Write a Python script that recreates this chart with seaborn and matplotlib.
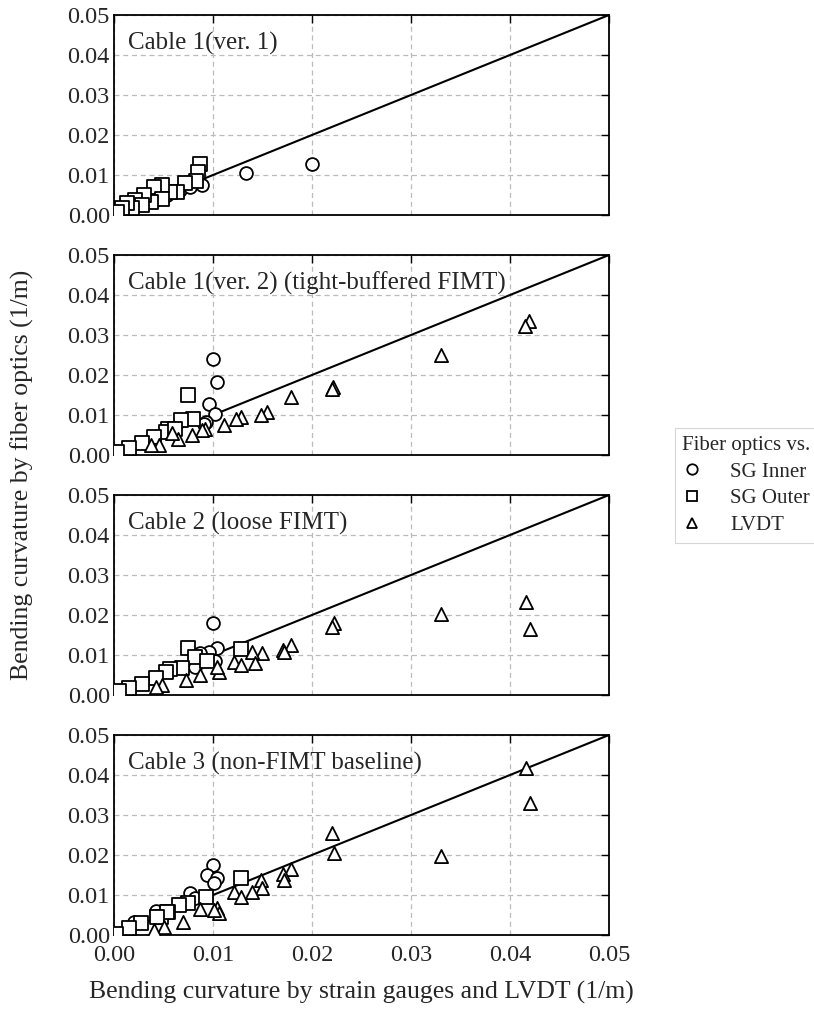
import numpy as np
import pandas as pd
import matplotlib
matplotlib.use("Agg")
import matplotlib.pyplot as plt
from matplotlib.lines import Line2D
import seaborn as sns

sns.set_style("white")
plt.rcParams["font.family"] = ["Liberation Serif", "DejaVu Serif"]
plt.rcParams["xtick.direction"] = "in"
plt.rcParams["ytick.direction"] = "in"

panel_titles = ["Cable 1(ver. 1)",
                "Cable 1(ver. 2) (tight-buffered FIMT)",
                "Cable 2 (loose FIMT)",
                "Cable 3 (non-FIMT baseline)"]
series_names = ["SG Inner", "SG Outer", "LVDT"]
legend_title = "Fiber optics vs."
xlabel = "Bending curvature by strain gauges and LVDT (1/m)"
ylabel = "Bending curvature by fiber optics (1/m)"
tick_values = [0.00, 0.01, 0.02, 0.03, 0.04, 0.05]

# ---- Panel 1: Cable 1 (ver. 1)
p1_inner_x = [0.0133, 0.0200, 0.0089, 0.0054, 0.0067, 0.0077, 0.0040, 0.0020]
p1_inner_y = [0.0105, 0.0128, 0.0074, 0.0050, 0.0062, 0.0070, 0.0036, 0.0020]
p1_outer_x = [0.0087, 0.0085, 0.0083, 0.0072, 0.0064, 0.0057, 0.0048, 0.0040, 0.0048,
              0.0037, 0.0030, 0.0021, 0.0028, 0.0018, 0.0013, 0.0008, 0.0003]
p1_outer_y = [0.0128, 0.0108, 0.0084, 0.0079, 0.0058, 0.0058, 0.0074, 0.0070, 0.0041,
              0.0033, 0.0050, 0.0037, 0.0025, 0.0017, 0.0029, 0.0017, 0.0008]
p1_lvdt_x = []
p1_lvdt_y = []

# ---- Panel 2: Cable 1 (ver. 2)
p2_inner_x = [0.0100, 0.0104, 0.0096, 0.0102, 0.0093, 0.0091]
p2_inner_y = [0.0241, 0.0182, 0.0128, 0.0103, 0.0083, 0.0078]
p2_outer_x = [0.0075, 0.0080, 0.0068, 0.0055, 0.0053, 0.0062, 0.0040, 0.0028, 0.0015, 0.0003]
p2_outer_y = [0.0151, 0.0089, 0.0087, 0.0066, 0.0058, 0.0066, 0.0046, 0.0029, 0.0017, 0.0008]
p2_lvdt_x = [0.0419, 0.0415, 0.0330, 0.0221, 0.0220, 0.0179, 0.0155, 0.0148, 0.0128,
             0.0123, 0.0111, 0.0092, 0.0089, 0.0079, 0.0065, 0.0059, 0.0045, 0.0037]
p2_lvdt_y = [0.0335, 0.0322, 0.0250, 0.0170, 0.0165, 0.0145, 0.0108, 0.0101, 0.0095,
             0.0089, 0.0076, 0.0066, 0.0062, 0.0050, 0.0041, 0.0054, 0.0025, 0.0025]

# ---- Panel 3: Cable 2 (loose FIMT)
p3_inner_x = [0.0100, 0.0104, 0.0096, 0.0087, 0.0082, 0.0102]
p3_inner_y = [0.0179, 0.0117, 0.0108, 0.0105, 0.0071, 0.0084]
p3_outer_x = [0.0075, 0.0128, 0.0082, 0.0094, 0.0069, 0.0057, 0.0053, 0.0042, 0.0028,
              0.0015, 0.0005]
p3_outer_y = [0.0117, 0.0115, 0.0096, 0.0084, 0.0067, 0.0065, 0.0058, 0.0042, 0.0028,
              0.0017, 0.0010]
p3_lvdt_x = [0.0416, 0.0420, 0.0330, 0.0222, 0.0220, 0.0179, 0.0171, 0.0172, 0.0149,
             0.0139, 0.0142, 0.0121, 0.0128, 0.0106, 0.0104, 0.0087, 0.0073, 0.0048, 0.0042]
p3_lvdt_y = [0.0233, 0.0164, 0.0203, 0.0181, 0.0171, 0.0125, 0.0113, 0.0107, 0.0104,
             0.0107, 0.0081, 0.0082, 0.0075, 0.0058, 0.0071, 0.0050, 0.0038, 0.0025, 0.0020]

# ---- Panel 4: Cable 3 (non-FIMT baseline)
p4_inner_x = [0.0100, 0.0094, 0.0104, 0.0101, 0.0077, 0.0082, 0.0042, 0.0020, 0.0002]
p4_inner_y = [0.0175, 0.0150, 0.0142, 0.0130, 0.0104, 0.0092, 0.0060, 0.0033, 0.0003]
p4_outer_x = [0.0128, 0.0093, 0.0075, 0.0066, 0.0055, 0.0047, 0.0054, 0.0043, 0.0027,
              0.0015, 0.0002]
p4_outer_y = [0.0142, 0.0096, 0.0079, 0.0074, 0.0058, 0.0046, 0.0058, 0.0046, 0.0029,
              0.0017, 0.0003]
p4_lvdt_x = [0.0416, 0.0420, 0.0330, 0.0220, 0.0222, 0.0179, 0.0171, 0.0172, 0.0148,
             0.0149, 0.0139, 0.0121, 0.0128, 0.0104, 0.0106, 0.0087, 0.0101, 0.0070,
             0.0050, 0.0040]
p4_lvdt_y = [0.0417, 0.0329, 0.0198, 0.0256, 0.0204, 0.0164, 0.0153, 0.0138, 0.0138,
             0.0117, 0.0108, 0.0108, 0.0096, 0.0067, 0.0054, 0.0066, 0.0063, 0.0033,
             0.0021, 0.0013]

panels = [
    (p1_inner_x, p1_inner_y, p1_outer_x, p1_outer_y, p1_lvdt_x, p1_lvdt_y),
    (p2_inner_x, p2_inner_y, p2_outer_x, p2_outer_y, p2_lvdt_x, p2_lvdt_y),
    (p3_inner_x, p3_inner_y, p3_outer_x, p3_outer_y, p3_lvdt_x, p3_lvdt_y),
    (p4_inner_x, p4_inner_y, p4_outer_x, p4_outer_y, p4_lvdt_x, p4_lvdt_y),
]

rows = []
for pi, pdata in enumerate(panels):
    for si, name in enumerate(series_names):
        xs, ys = pdata[2 * si], pdata[2 * si + 1]
        for xv, yv in zip(xs, ys):
            rows.append({"panel": pi, "source": name, "x": xv, "y": yv})
df = pd.DataFrame(rows)

markers = {"SG Inner": "o", "SG Outer": "s", "LVDT": "^"}

fig = plt.figure(figsize=(8.14, 10.14), dpi=100)
left, right = 114 / 814, 609 / 814
panel_tops_px = [15, 255, 495, 735]
panel_h_px = 200
axes = []
for i, tp in enumerate(panel_tops_px):
    bottom = 1 - (tp + panel_h_px) / 1014
    ax = fig.add_axes([left, bottom, right - left, panel_h_px / 1014])
    axes.append(ax)

line_vals = [tick_values[0], tick_values[-1]]
for i, ax in enumerate(axes):
    ax.plot(line_vals, line_vals, color="black", lw=1.5, zorder=2)
    sub = df[df["panel"] == i]
    for name in series_names:
        d = sub[sub["source"] == name]
        if len(d) == 0:
            continue
        sns.scatterplot(data=d, x="x", y="y", ax=ax, marker=markers[name],
                        s=90 if name != "SG Inner" else 85,
                        facecolor="white", edgecolor="black", linewidth=1.3,
                        zorder=3, legend=False)
    ax.set_xlim(0, 0.05)
    ax.set_ylim(0, 0.05)
    ax.set_xticks(tick_values)
    ax.set_yticks(tick_values)
    ax.set_yticklabels([f"{v:.2f}" for v in tick_values], fontsize=17.5)
    if i == len(axes) - 1:
        ax.set_xticklabels([f"{v:.2f}" for v in tick_values], fontsize=17.5)
    else:
        ax.set_xticklabels([])
    ax.set_xlabel("")
    ax.set_ylabel("")
    ax.grid(True, color="#bbbbbb", linestyle=(0, (4, 3)), lw=0.9)
    ax.set_axisbelow(True)
    ax.tick_params(axis="both", which="both", top=True, right=True, length=6,
                   width=1.0, color="black")
    ax.tick_params(axis="y", pad=3)
    ax.tick_params(axis="x", pad=7)
    for sp in ax.spines.values():
        sp.set_color("black")
        sp.set_linewidth(1.3)
    ax.text(0.028, 0.86, panel_titles[i], transform=ax.transAxes,
            fontsize=18, ha="left", va="center", zorder=5)

fig.text(22 / 814, 1 - 475 / 1014, ylabel, rotation=90, ha="center", va="center",
         fontsize=18.5)
fig.text(361 / 814, 1 - 992 / 1014, xlabel, ha="center", va="center", fontsize=18.5)

handles = [Line2D([], [], linestyle="none", marker=markers[n], markersize=7.5,
                  markerfacecolor="white", markeredgecolor="black",
                  markeredgewidth=1.3) for n in series_names]
leg = fig.legend(handles, series_names, title=legend_title, loc="upper right",
                 bbox_to_anchor=(1.0 + 14 / 814, 1 - 418 / 1014), frameon=True,
                 fontsize=15, title_fontsize=15, handlelength=1.0,
                 handletextpad=1.3, borderpad=0.35, labelspacing=0.35,
                 fancybox=False)
leg._legend_box.align = "left"
leg.get_frame().set_edgecolor("#cccccc")
leg.get_frame().set_linewidth(0.8)

fig.savefig("out.png", dpi=100)
